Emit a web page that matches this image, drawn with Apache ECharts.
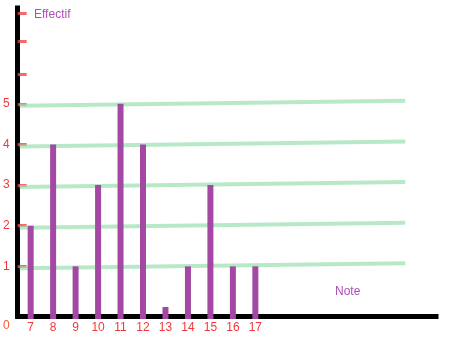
<!DOCTYPE html>
<html>
<head>
<meta charset="utf-8">
<script src="https://cdn.jsdelivr.net/npm/echarts@6/dist/echarts.min.js"></script>
<style>
html,body{margin:0;padding:0;background:#fff;}
#c{width:451px;height:337px;}
</style>
</head>
<body>
<div id="c"></div>
<script>
const notes = [7, 8, 9, 10, 11, 12, 13, 14, 15, 16, 17];
const effectifs = [2, 4, 1, 3, 5, 4, 0, 1, 3, 1, 1];
const yTickLabels = [1, 2, 3, 4, 5];
const yExtraTicks = [5.74, 6.55, 7.24];
const gridValues = [1, 2, 3, 4, 5];

const xMin = 6.422, xMax = 25.04, gridEnd = 23.67;
const yMin = -0.222, yMax = 7.36;
const red = '#f0383c';
const purple = '#a349a4';
const font = '"Liberation Sans", Arial, sans-serif';

const chart = echarts.init(document.getElementById('c'), null, {renderer: 'canvas'});
chart.setOption({
  animation: false,
  backgroundColor: '#fff',
  grid: {left: 17, right: 15, top: 8, bottom: 21},
  xAxis: {
    type: 'value', min: xMin, max: xMax,
    axisLine: {onZero: false, lineStyle: {color: '#000', width: 5, cap: 'square'}},
    axisTick: {show: false},
    splitLine: {show: false},
    axisLabel: {customValues: notes, color: red, fontSize: 12, fontFamily: font, margin: 6}
  },
  yAxis: {
    type: 'value', min: yMin, max: yMax,
    axisLine: {onZero: false, lineStyle: {color: '#000', width: 5, cap: 'square'}},
    axisTick: {show: true, inside: true, length: 9, customValues: yTickLabels.concat(yExtraTicks),
      lineStyle: {color: 'rgba(235,70,70,0.8)', width: 3}},
    splitLine: {show: false},
    axisLabel: {customValues: yTickLabels, color: red, fontSize: 12, fontFamily: font, margin: 8}
  },
  graphic: [
    {type: 'text', left: 34, top: 9, style: {text: 'Effectif', fill: '#ad4fb5', font: '12px ' + font}},
    {type: 'text', left: 335, top: 286, style: {text: 'Note', fill: '#ad4fb5', font: '12px ' + font}},
    {type: 'text', left: 3, top: 320, style: {text: '0', fill: '#f05a3c', font: '12px ' + font}}
  ],
  series: [
    {
      type: 'custom', z: 1,
      data: gridValues.map(v => [v]),
      renderItem: function (params, api) {
        const v = api.value(0);
        const a = api.coord([xMin, v]);
        const b = api.coord([gridEnd, v]);
        return {type: 'line', shape: {x1: a[0] + 2, y1: a[1] + 2, x2: b[0], y2: b[1] - 3},
          style: {stroke: 'rgba(155,224,178,0.72)', lineWidth: 4}};
      }
    },
    {
      type: 'custom', z: 3,
      data: notes.map((n, i) => [n, effectifs[i]]),
      renderItem: function (params, api) {
        const x = api.value(0), v = api.value(1);
        const top = api.coord([x, v]);
        const base = api.coord([x, yMin]);
        return {type: 'line', shape: {x1: top[0], y1: top[1], x2: base[0], y2: base[1] + 3},
          style: {stroke: purple, lineWidth: 6, lineCap: 'butt'}};
      }
    }
  ]
});
</script>
</body>
</html>
